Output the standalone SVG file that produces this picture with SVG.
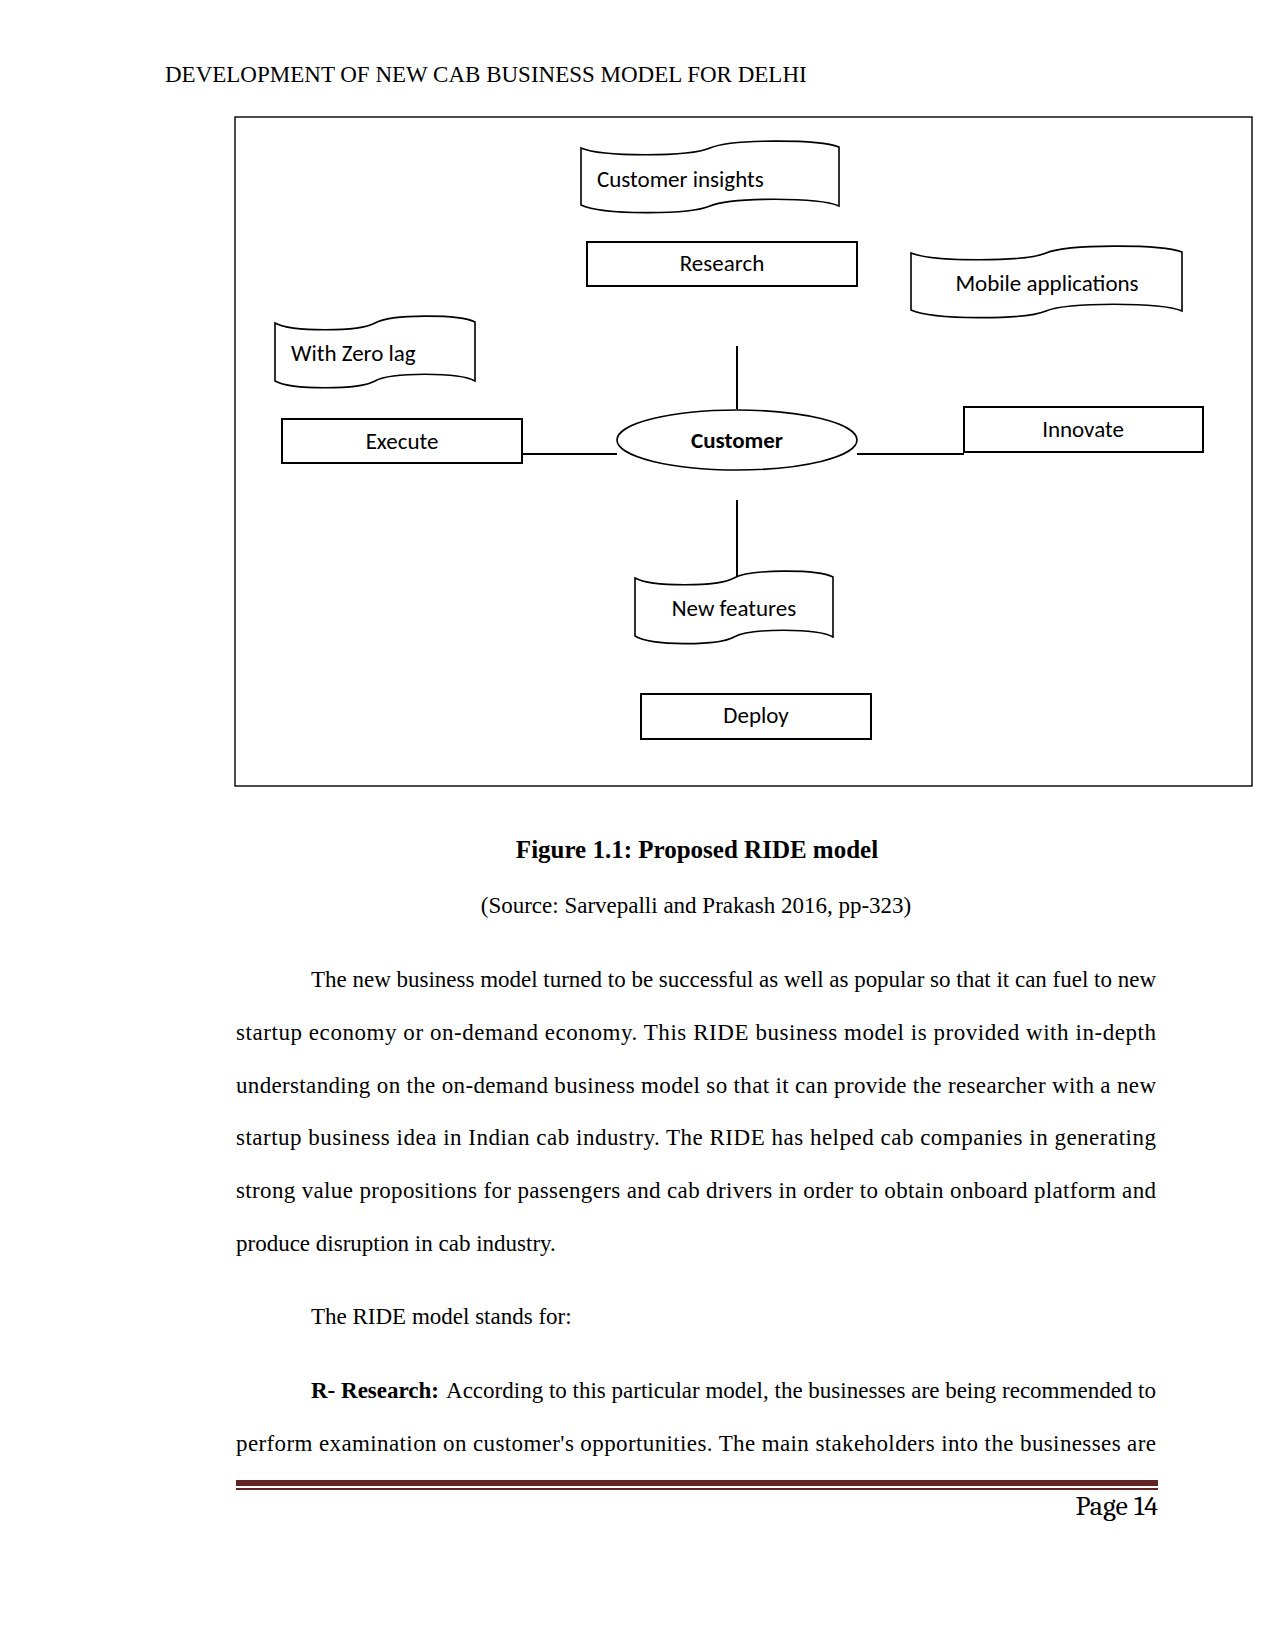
<svg xmlns="http://www.w3.org/2000/svg" width="1275" height="1651" viewBox="0 0 1275 1651">
<style>
  .lbl{font-family:Carlito,Lato,"Liberation Sans",sans-serif;font-size:23px;fill:#000}
  .shape{fill:#fff;stroke:#000;stroke-width:1.6}
  .box{fill:#fff;stroke:#000;stroke-width:2}
  .conn{stroke:#000;stroke-width:2;fill:none}
  .body{font-family:"Liberation Serif","Times New Roman",serif;font-size:23px;fill:#000}
  .bold{font-weight:bold}
  .caption{font-size:25px}
</style>
<rect width="1275" height="1651" fill="#fff"/>
<text class="body" x="165" y="82">DEVELOPMENT OF NEW CAB BUSINESS MODEL FOR DELHI</text>
<rect x="235" y="117" width="1017" height="669" fill="none" stroke="#000" stroke-width="1.4"/>

<g id="connectors">
  <line class="conn" x1="737" y1="346" x2="737" y2="409"/>
  <line class="conn" x1="737" y1="500" x2="737" y2="576"/>
  <line class="conn" x1="522" y1="454" x2="617" y2="454"/>
  <line class="conn" x1="857" y1="454" x2="964" y2="454"/>
</g>

<g id="customer-insights">
  <path class="shape" d="M581,148 C602,157 689,157 710,148 C731,139 818,139 839,147 L839,206 C818,197 731,197 710,206 C689,215 602,215 581,205 Z"/>
  <text class="lbl" x="597" y="187">Customer insights</text>
</g>
<g id="research">
  <rect class="box" x="587" y="242" width="270" height="44"/>
  <text class="lbl" x="722" y="271" text-anchor="middle">Research</text>
</g>
<g id="mobile-applications">
  <path class="shape" d="M911,253 C933,262 1025,262 1046,253 C1068,244 1160,244 1182,252 L1182,311 C1160,302 1068,302 1046,311 C1025,320 933,320 911,310 Z"/>
  <text class="lbl" x="1047" y="291" text-anchor="middle">Mobile applications</text>
</g>
<g id="with-zero-lag">
  <path class="shape" d="M275,323 C291,332 359,332 375,323 C391,314 459,314 475,322 L475,381 C459,372 391,372 375,381 C359,390 291,390 275,381 Z"/>
  <text class="lbl" x="291" y="361">With Zero lag</text>
</g>
<g id="execute">
  <rect class="box" x="282" y="419" width="240" height="44"/>
  <text class="lbl" x="402" y="449" text-anchor="middle">Execute</text>
</g>
<g id="customer">
  <ellipse class="shape" cx="737" cy="440" rx="120" ry="30"/>
  <text class="lbl" x="737" y="448" text-anchor="middle" font-weight="bold">Customer</text>
</g>
<g id="innovate">
  <rect class="box" x="964" y="407" width="239" height="45"/>
  <text class="lbl" x="1083" y="437" text-anchor="middle">Innovate</text>
</g>
<g id="new-features">
  <path class="shape" d="M635,578 C651,587 718,587 734,578 C750,569 817,569 833,577 L833,637 C817,628 750,628 734,637 C718,646 651,646 635,636 Z"/>
  <text class="lbl" x="734" y="616" text-anchor="middle">New features</text>
</g>
<g id="deploy">
  <rect class="box" x="641" y="694" width="230" height="45"/>
  <text class="lbl" x="756" y="723" text-anchor="middle">Deploy</text>
</g>

<text class="body bold caption" x="697" y="858" text-anchor="middle">Figure 1.1: Proposed RIDE model</text>
<text class="body" x="696" y="913" text-anchor="middle">(Source: Sarvepalli and Prakash 2016, pp-323)</text>

<text class="body" x="311" y="987" textLength="845" lengthAdjust="spacing">The new business model turned to be successful as well as popular so that it can fuel to new</text>
<text class="body" x="236" y="1040" textLength="920" lengthAdjust="spacing">startup economy or on-demand economy. This RIDE business model is provided with in-depth</text>
<text class="body" x="236" y="1093" textLength="920" lengthAdjust="spacing">understanding on the on-demand business model so that it can provide the researcher with a new</text>
<text class="body" x="236" y="1145" textLength="920" lengthAdjust="spacing">startup business idea in Indian cab industry. The RIDE has helped cab companies in generating</text>
<text class="body" x="236" y="1198" textLength="920" lengthAdjust="spacing">strong value propositions for passengers and cab drivers in order to obtain onboard platform and</text>
<text class="body" x="236" y="1251">produce disruption in cab industry.</text>
<text class="body" x="311" y="1324">The RIDE model stands for:</text>
<text class="body bold" x="311" y="1398">R- Research:</text>
<text class="body" x="446" y="1398" textLength="710" lengthAdjust="spacing">According to this particular model, the businesses are being recommended to</text>
<text class="body" x="236" y="1451" textLength="920" lengthAdjust="spacing">perform examination on customer's opportunities. The main stakeholders into the businesses are</text>

<rect x="236" y="1480" width="922" height="6" fill="#622423"/>
<rect x="236" y="1488" width="922" height="2" fill="#622423"/>
<text x="1158" y="1515" text-anchor="end" font-family="Cambria,Caladea,'Liberation Serif',serif" font-size="28" fill="#000">Page 14</text>
</svg>
